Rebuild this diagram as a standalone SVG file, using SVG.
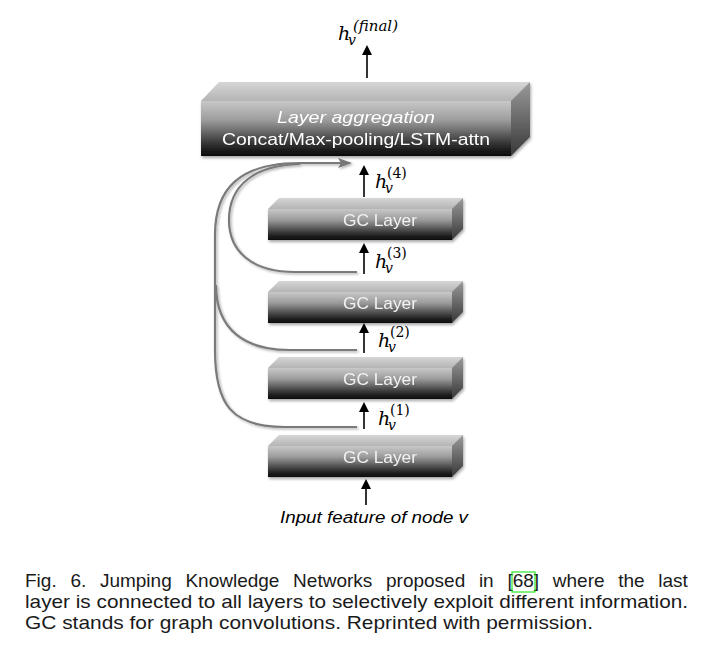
<svg xmlns="http://www.w3.org/2000/svg" width="715" height="658" viewBox="0 0 715 658">
<defs>
<linearGradient id="front" x1="0" y1="0" x2="0" y2="1">
<stop offset="0" stop-color="#c8c8c8"/>
<stop offset="0.35" stop-color="#9c9c9c"/>
<stop offset="0.8" stop-color="#2e2e2e"/>
<stop offset="1" stop-color="#0a0a0a"/>
</linearGradient>
<linearGradient id="topf" x1="0" y1="0" x2="0" y2="1">
<stop offset="0" stop-color="#d6d6d6"/>
<stop offset="1" stop-color="#b4b4b4"/>
</linearGradient>
<linearGradient id="side" x1="0" y1="0" x2="0" y2="1">
<stop offset="0" stop-color="#9a9a9a"/>
<stop offset="1" stop-color="#383838"/>
</linearGradient>
<filter id="sh" x="-10%" y="-20%" width="120%" height="150%">
<feDropShadow dx="1" dy="2" stdDeviation="1.5" flood-color="#000" flood-opacity="0.35"/>
</filter>
<filter id="lsh" x="-10%" y="-10%" width="120%" height="120%">
<feDropShadow dx="1.5" dy="1.5" stdDeviation="0.8" flood-color="#000" flood-opacity="0.3"/>
</filter>
<marker id="ah" markerWidth="10" markerHeight="10" refX="8" refY="5" orient="auto" markerUnits="userSpaceOnUse">
<path d="M0,0 L10,5 L0,10 Z" fill="#000"/>
</marker>
<marker id="gh" markerWidth="14" markerHeight="10" refX="12" refY="5" orient="auto" markerUnits="userSpaceOnUse">
<path d="M0,0 L14,5 L0,10 L3,5 Z" fill="#777"/>
</marker>
</defs>
<style>
.fr{fill:url(#front)}
.tp{fill:url(#topf)}
.sd{fill:url(#side)}
.gc{font-family:"Liberation Sans",Arial,sans-serif;font-size:17px;fill:#f2f2f2;text-anchor:middle}
.ag{font-family:"Liberation Sans",Arial,sans-serif;font-size:17px;fill:#fff;text-anchor:middle}
.ar{stroke:#000;stroke-width:1.6;fill:none}
.cv{stroke:#7a7a7a;stroke-width:2.2;fill:none}
.mh{font-family:"DejaVu Serif","Liberation Serif",serif;font-style:italic;font-size:19px;fill:#000}
.mv{font-style:italic;font-size:14px}
.ms{font-style:normal;font-size:14px}
.cap{font-family:"Liberation Sans",Arial,sans-serif;font-size:19px;fill:#1a1a1a}
</style>
<rect width="715" height="658" fill="#fff"/>

<g id="aggregation" filter="url(#sh)">
<polygon class="tp" points="201,101 219,82 530,82 511,101"/>
<polygon class="sd" points="511,101 530,82 530,137 511,156"/>
<rect class="fr" x="201" y="101" width="310" height="55"/>
<text class="ag" x="356" y="123" font-style="italic" textLength="158" lengthAdjust="spacingAndGlyphs">Layer aggregation</text>
<text class="ag" x="356" y="145" textLength="268" lengthAdjust="spacingAndGlyphs">Concat/Max-pooling/LSTM-attn</text>
</g>

<g id="gc1" filter="url(#sh)">
<polygon class="tp" points="268,209 279,198 463,198 452,209"/>
<polygon class="sd" points="452,209 463,198 463,229 452,240"/>
<rect class="fr" x="268" y="209" width="184" height="31"/>
<text class="gc" x="380" y="226" textLength="74" lengthAdjust="spacingAndGlyphs">GC Layer</text>
</g>
<g id="gc2" filter="url(#sh)">
<polygon class="tp" points="268,292 279,281 463,281 452,292"/>
<polygon class="sd" points="452,292 463,281 463,312 452,323"/>
<rect class="fr" x="268" y="292" width="184" height="31"/>
<text class="gc" x="380" y="309" textLength="74" lengthAdjust="spacingAndGlyphs">GC Layer</text>
</g>
<g id="gc3" filter="url(#sh)">
<polygon class="tp" points="268,368 279,357 463,357 452,368"/>
<polygon class="sd" points="452,368 463,357 463,388 452,399"/>
<rect class="fr" x="268" y="368" width="184" height="31"/>
<text class="gc" x="380" y="385" textLength="74" lengthAdjust="spacingAndGlyphs">GC Layer</text>
</g>
<g id="gc4" filter="url(#sh)">
<polygon class="tp" points="268,446 279,435 463,435 452,446"/>
<polygon class="sd" points="452,446 463,435 463,466 452,477"/>
<rect class="fr" x="268" y="446" width="184" height="31"/>
<text class="gc" x="380" y="463" textLength="74" lengthAdjust="spacingAndGlyphs">GC Layer</text>
</g>

<g id="connectors">
<g filter="url(#lsh)">
<path class="cv" d="M357,427 L285,427 C232,427 215,405 215,350 L215,235 C215,188 240,163 300,163 L350,163" marker-end="url(#gh)"/>
<path class="cv" d="M357,350 L290,350 C245,350 216,330 216,285"/>
<path class="cv" d="M357,272 L295,272 C250,272 229,250 229,220 C229,185 255,165 300,164"/>
</g>
<line class="ar" x1="367" y1="78" x2="367" y2="47" marker-end="url(#ah)"/>
<line class="ar" x1="364" y1="197" x2="364" y2="167" marker-end="url(#ah)"/>
<line class="ar" x1="364" y1="274" x2="364" y2="245" marker-end="url(#ah)"/>
<line class="ar" x1="364" y1="353" x2="364" y2="325" marker-end="url(#ah)"/>
<line class="ar" x1="364" y1="429" x2="364" y2="404" marker-end="url(#ah)"/>
<line class="ar" x1="366" y1="505" x2="366" y2="481" marker-end="url(#ah)"/>
</g>

<g id="labels">
<text class="mh" x="338" y="40">h<tspan class="mv" x="348" y="45">v</tspan><tspan class="mv" x="353" y="31" font-size="15" textLength="45" lengthAdjust="spacingAndGlyphs">(final)</tspan></text>
<text class="mh" x="375" y="188">h<tspan class="mv" x="385" y="193">v</tspan><tspan class="ms" x="387" y="178">(4)</tspan></text>
<text class="mh" x="375" y="268">h<tspan class="mv" x="385" y="273">v</tspan><tspan class="ms" x="387" y="258">(3)</tspan></text>
<text class="mh" x="378" y="347">h<tspan class="mv" x="388" y="352">v</tspan><tspan class="ms" x="390" y="337">(2)</tspan></text>
<text class="mh" x="378" y="425">h<tspan class="mv" x="388" y="430">v</tspan><tspan class="ms" x="390" y="415">(1)</tspan></text>
<text x="374" y="523" font-family="Liberation Sans, Arial, sans-serif" font-size="16" font-style="italic" text-anchor="middle" textLength="188" lengthAdjust="spacingAndGlyphs">Input feature of node v</text>
</g>

<g id="caption">
<text class="cap" y="587"><tspan x="25">Fig.</tspan> <tspan x="70.4">6.</tspan> <tspan x="99.9">Jumping</tspan> <tspan x="185.4">Knowledge</tspan> <tspan x="293.1">Networks</tspan> <tspan x="386">proposed</tspan> <tspan x="478.9">in</tspan> <tspan x="507.4">[68]</tspan> <tspan x="552.8">where</tspan> <tspan x="618.2">the</tspan> <tspan x="658.3">last</tspan></text>
<rect x="512" y="572" width="23" height="20" fill="none" stroke="#00e000" stroke-width="1"/>
<text class="cap" x="25" y="608" textLength="663" lengthAdjust="spacingAndGlyphs">layer is connected to all layers to selectively exploit different information.</text>
<text class="cap" x="25" y="629" textLength="568" lengthAdjust="spacingAndGlyphs">GC stands for graph convolutions. Reprinted with permission.</text>
</g>
</svg>
